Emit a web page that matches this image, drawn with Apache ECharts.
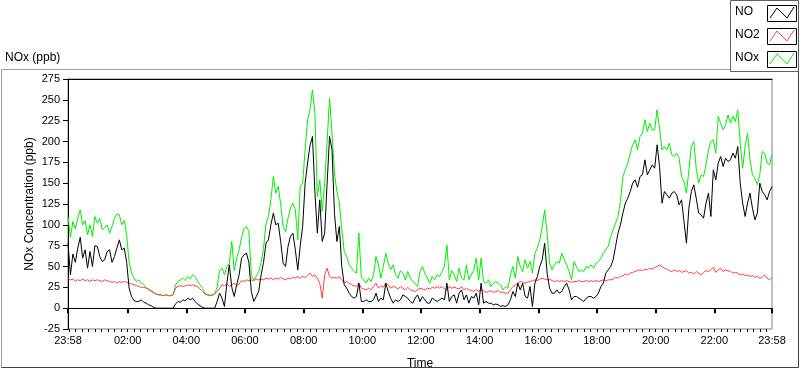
<!DOCTYPE html>
<html>
<head>
<meta charset="utf-8">
<script src="https://cdn.jsdelivr.net/npm/echarts@6/dist/echarts.min.js"></script>
<style>
html,body{margin:0;padding:0;background:#fff;}
#chart{width:800px;height:369px;}
</style>
</head>
<body>
<div id="chart"></div>
<script>
// Time axis: minutes since 23:58, one sample every 5 minutes
const startLabel = '23:58';
const stepMinutes = 5;
const xTickMinutes = [0, 122, 242, 362, 482, 602, 722, 842, 962, 1082, 1202, 1322, 1440];
const xTickLabels = ['23:58', '02:00', '04:00', '06:00', '08:00', '10:00', '12:00', '14:00', '16:00', '18:00', '20:00', '22:00', '23:58'];
const yTicks = [-25, 0, 25, 50, 75, 100, 125, 150, 175, 200, 225, 250, 275];
const seriesNames = ['NO', 'NO2', 'NOx'];

const noxValues = [
  110, 85, 104, 95, 108, 118, 100, 105, 88, 100, 86, 110, 102, 108, 94, 97, 100, 90, 98, 108, 113, 112, 100, 105,
  88, 55, 42, 36, 32, 34, 30, 28, 25, 22, 20, 18,
  17, 16, 16, 15, 16, 15, 15, 16, 28, 32, 34, 36,
  33, 38, 35, 40, 38, 32, 28, 24, 18, 16, 16, 15,
  17, 25, 45, 48, 40, 50, 54, 80, 45, 60, 70, 85,
  95, 98, 92, 40, 34, 38, 44, 55, 72, 102, 110, 130,
  158, 138, 146, 125, 98, 92, 108, 120, 126, 118, 82, 146,
  150, 190, 226, 238, 262, 235, 134, 154, 116, 150, 200, 252,
  210, 162, 140, 126, 95, 68, 62, 52, 48, 44, 42, 90,
  36, 34, 30, 36, 32, 40, 62, 52, 36, 50, 66, 54,
  46, 52, 40, 36, 45, 42, 34, 44, 36, 32, 30, 26,
  44, 50, 42, 36, 30, 38, 34, 40, 38, 44, 50, 76,
  34, 45, 40, 32, 48, 36, 34, 52, 34, 40, 46, 60,
  34, 60, 32, 30, 34, 26, 30, 32, 30, 28, 22, 26,
  24, 40, 50, 36, 62, 50, 44, 58, 48, 56, 42, 66,
  72, 82, 98, 118, 90, 54, 46, 52, 56, 54, 66, 58,
  52, 44, 34, 56, 50, 44, 46, 44, 50, 48, 52, 48,
  54, 56, 60, 66, 70, 74, 86, 94, 102, 110, 128, 158,
  166, 174, 186, 196, 202, 190, 206, 210, 226, 212, 222, 214,
  214, 238, 216, 190, 194, 190, 198, 184, 182, 186, 180, 158,
  152, 138, 166, 194, 200, 168, 150, 160, 158, 172, 190, 200,
  202, 186, 230, 222, 214, 220, 232, 222, 230, 224, 238, 198,
  168, 194, 210, 178, 160, 156, 148, 160, 188, 186, 174, 172,
  184
];

const noValues = [
  78, 40, 65, 55, 72, 85, 60, 70, 48, 68, 50, 75, 74, 62, 56, 58, 68, 70, 55, 62, 72, 82, 70, 72,
  55, 24, 14, 9, 8, 8, 10, 7, 6, 4, 3, 1,
  0, 0, 0, 0, 0, 0, 0, 0, 5, 8, 7, 10,
  9, 12, 10, 12, 8, 5, 3, 1, 0, 0, 0, 0,
  0, 8, 18, 12, 2, 30, 52, 25, 14, 28, 40, 60,
  64, 66, 55, 20, 8, 14, 20, 40, 55, 78, 82, 100,
  114, 100, 102, 80, 54, 50, 74, 86, 90, 70, 46, 75,
  98, 150, 174, 195, 206, 140, 90, 130, 80, 90, 150, 206,
  190, 114, 80, 98, 50, 28, 24, 18, 14, 12, 14, 30,
  8, 8, 10, 8, 8, 10, 18, 8, 12, 10, 30, 20,
  12, 6, 10, 8, 10, 16, 14, 12, 8, 6, 12, 16,
  8, 14, 10, 6, 6, 12, 10, 8, 10, 12, 10, 30,
  8, 14, 16, 6, 18, 22, 10, 16, 6, 14, 12, 18,
  4, 30, 6, 8, 6, 6, 4, 5, 4, 2, 3, 2,
  4, 10, 20, 14, 30, 22, 30, 14, 12, 26, 2, 30,
  38, 50, 58, 78, 42, 24, 18, 18, 22, 18, 20, 26,
  30, 22, 10, 14, 14, 12, 10, 8, 12, 14, 14, 12,
  14, 18, 26, 30, 42, 46, 50, 58, 74, 90, 100, 114,
  126, 132, 140, 150, 154, 145, 158, 160, 178, 160, 166, 172,
  168, 196, 170, 126, 140, 136, 132, 138, 140, 136, 124, 130,
  104, 78, 120, 140, 148, 132, 114, 112, 108, 126, 138, 110,
  166, 154, 174, 182, 170, 180, 176, 178, 186, 180, 194, 150,
  126, 110, 126, 138, 120, 106, 114, 150, 140, 136, 130, 140,
  146
];

const no2Values = [
  36, 34, 35, 32, 34, 33, 35, 33, 34, 32, 34, 33, 34, 33, 32, 34, 33, 32, 31, 32, 30, 32, 31, 32,
  31, 30, 29, 28, 27, 26, 25, 25, 24, 23, 21, 19,
  17, 16, 16, 15, 16, 15, 15, 16, 24, 26, 27, 26,
  27, 28, 27, 28, 27, 26, 23, 20, 17, 16, 15, 16,
  17, 20, 24, 28, 27, 29, 26, 28, 30, 27, 29, 33,
  32, 34, 33, 34, 33, 35, 34, 35, 34, 36, 35, 36,
  34, 36, 35, 37, 35, 34, 36, 35, 37, 36, 38, 36,
  38, 37, 39, 42, 38, 40, 36, 30, 12, 40, 48, 38,
  36, 37, 36, 38, 34, 30, 32, 30, 28, 27, 26, 30,
  24, 23, 22, 24, 22, 26, 30, 24, 27, 25, 30, 28,
  24, 26, 25, 23, 26, 24, 22, 25, 22, 21, 20, 22,
  24, 23, 22, 24, 23, 25, 24, 26, 24, 26, 23, 22,
  26, 24, 25, 24, 23, 26, 22, 24, 22, 21, 20, 22,
  20, 22, 21, 19, 20, 21, 19, 20, 21, 19, 19, 18,
  18, 22, 26, 28, 30, 32, 31, 30, 31, 32, 33, 34,
  33, 35, 36, 35, 34, 35, 33, 32, 33, 32, 33, 32,
  33, 32, 31, 32, 32, 33, 32, 32, 33, 32, 33, 32,
  33, 32, 33, 34, 33, 34, 34, 35, 37, 36, 38, 39,
  41, 40, 42, 43, 44, 45, 46, 45, 47, 46, 48, 47,
  49, 50, 52, 50, 48, 47, 45, 44, 46, 44, 45, 43,
  44, 45, 42, 43, 41, 44, 42, 40, 43, 45, 44, 46,
  49, 43, 46, 48, 44, 46, 45, 44, 42, 43, 42, 40,
  41, 39, 40, 38, 39, 37, 38, 36, 37, 40, 36, 34,
  37
];

const colors = { NO: '#000000', NO2: '#ff4040', NOx: '#00f000' };
const FONT = 'Liberation Sans';

function pairs(vals) { return vals.map((v, i) => [i * stepMinutes, v]); }

// minor ticks: 9 intervals per 2-hour major interval, anchored at 02:00
const minorTicks = [];
for (let k = -9; k <= 98; k++) {
  const m = 122 + k * 120 / 9;
  if (m > 0.5 && m < 1439.5) minorTicks.push(m);
}

const chart = echarts.init(document.getElementById('chart'), null, { renderer: 'canvas' });

function legendItem(name, y) {
  const bx = 767, by = y - 8;
  return [
    { type: 'text', left: 735, top: y - 7, style: { text: name, font: '12px "' + FONT + '"', fill: '#000' } },
    { type: 'rect', shape: { x: bx + 0.5, y: by + 0.5, width: 29, height: 16 }, style: { fill: '#fff', stroke: '#000', lineWidth: 1 } },
    { type: 'polyline', shape: { points: [[bx + 3, by + 13], [bx + 10, by + 3], [bx + 20, by + 13], [bx + 27, by + 2]] }, style: { stroke: colors[name], lineWidth: 1, fill: null } }
  ];
}

const option = {
  animation: false,
  backgroundColor: '#fff',
  textStyle: { fontFamily: FONT, color: '#000' },
  grid: { left: 68, right: 28, top: 79, bottom: 40, outerBoundsMode: 'none', containLabel: false, show: true, borderColor: '#808080', borderWidth: 1, backgroundColor: '#fff' },
  xAxis: [
    {
      type: 'value', min: 0, max: 1440, position: 'bottom',
      name: 'Time', nameLocation: 'middle', nameGap: 29, nameMoveOverlap: false,
      nameTextStyle: { fontFamily: FONT, fontSize: 12, color: '#000' },
      axisLine: { show: true, lineStyle: { color: '#000', width: 1 } },
      axisTick: { show: true, length: 5, inside: false, customValues: xTickMinutes, lineStyle: { color: '#000', width: 2 } },
      axisLabel: {
        show: true, margin: 6, customValues: xTickMinutes, fontFamily: FONT, fontSize: 11, color: '#000',
        formatter: function (v) { const i = xTickMinutes.indexOf(v); return i >= 0 ? xTickLabels[i] : ''; }
      },
      splitLine: { show: false }
    },
    {
      type: 'value', min: 0, max: 1440, position: 'bottom',
      axisLine: { show: false },
      axisTick: { show: true, length: 3, customValues: minorTicks, lineStyle: { color: '#000', width: 1 } },
      axisLabel: { show: false, customValues: minorTicks },
      splitLine: { show: false }
    },
    {
      type: 'value', min: 0, max: 1440, position: 'top',
      axisLine: { show: true, lineStyle: { color: '#000', width: 1 } },
      axisTick: { show: false }, axisLabel: { show: false }, splitLine: { show: false }
    }
  ],
  yAxis: {
    type: 'value', min: yTicks[0], max: yTicks[yTicks.length - 1], interval: 25,
    name: 'NOx Concentration (ppb)', nameLocation: 'middle', nameGap: 32, nameRotate: 90, nameMoveOverlap: false,
    nameTextStyle: { fontFamily: FONT, fontSize: 12, color: '#000' },
    axisLine: { show: true, lineStyle: { color: '#000', width: 1 } },
    axisTick: { show: true, length: 5, inside: false, lineStyle: { color: '#000' } },
    axisLabel: { margin: 8, fontFamily: FONT, fontSize: 11, color: '#000' },
    splitLine: { show: false }
  },
  series: [
    { name: 'NOx', type: 'line', data: pairs(noxValues), showSymbol: false, symbol: 'none', lineStyle: { color: colors.NOx, width: 1 }, itemStyle: { color: colors.NOx }, z: 2 },
    { name: 'NO2', type: 'line', data: pairs(no2Values), showSymbol: false, symbol: 'none', lineStyle: { color: colors.NO2, width: 1 }, itemStyle: { color: colors.NO2 }, z: 3 },
    { name: 'NO', type: 'line', data: pairs(noValues), showSymbol: false, symbol: 'none', lineStyle: { color: colors.NO, width: 1 }, itemStyle: { color: colors.NO }, z: 4 }
  ],
  graphic: [
    { type: 'text', left: 5, top: 52, style: { text: 'NOx (ppb)', font: '12px "' + FONT + '"', fill: '#000' } },
    { type: 'polyline', shape: { points: [[730, 69.5], [1.5, 69.5], [1.5, 367.5]] }, style: { stroke: '#a0a0a0', lineWidth: 1, fill: null } },
    { type: 'polyline', shape: { points: [[1.5, 367.5], [798.5, 367.5], [798.5, 71]] }, style: { stroke: '#404040', lineWidth: 1, fill: null } },
    { type: 'rect', shape: { x: 730.5, y: 0.5, width: 68, height: 71 }, style: { fill: null, stroke: '#606060', lineWidth: 1 } }
  ].concat(legendItem('NO', 13), legendItem('NO2', 36), legendItem('NOx', 59))
};
chart.setOption(option);
</script>
</body>
</html>
